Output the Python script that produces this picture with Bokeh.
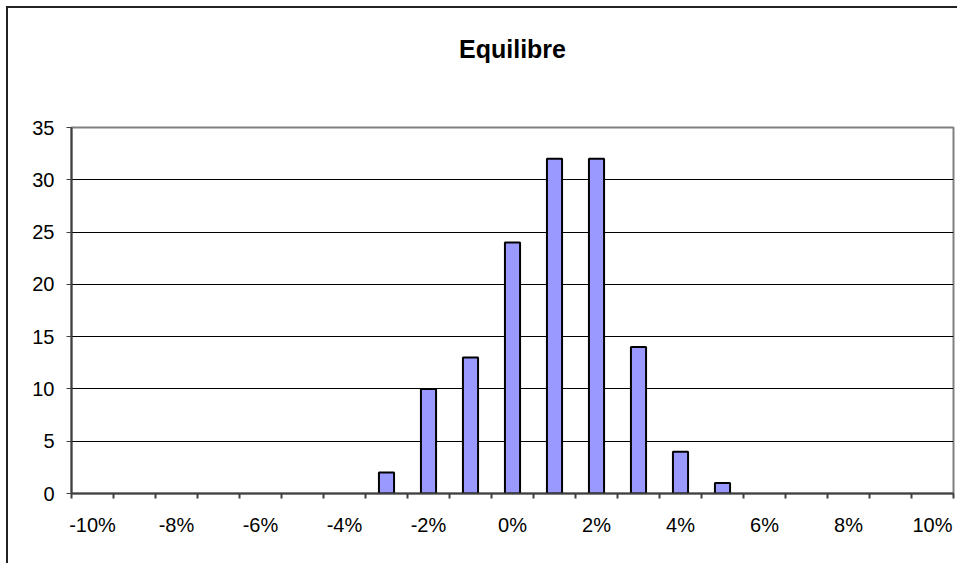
from bokeh.plotting import figure
from bokeh.models import Range1d, FixedTicker, PrintfTickFormatter, Title
from bokeh.embed import file_html
from bokeh.resources import INLINE

# Return bins (percent) and the number of observations in each bin
bins = [-10, -9, -8, -7, -6, -5, -4, -3, -2, -1, 0, 1, 2, 3, 4, 5, 6, 7, 8, 9, 10]
counts = [0, 0, 0, 0, 0, 0, 0, 2, 10, 13, 24, 32, 32, 14, 4, 1, 0, 0, 0, 0, 0]
labelled_bins = [-10, -8, -6, -4, -2, 0, 2, 4, 6, 8, 10]
y_ticks = [0, 5, 10, 15, 20, 25, 30, 35]
title_text = "Equilibre"

FONT = "Liberation Sans"
AXIS_COLOR = "#404040"

p = figure(
    width=951, height=557, title=None,
    x_range=Range1d(bins[0] - 0.5, bins[-1] + 0.5),
    y_range=Range1d(0, 35),
    output_backend="svg", toolbar_location=None,
    min_border_left=63, min_border_right=6,
    min_border_top=119, min_border_bottom=72,
)
p.styles = {
    "margin-left": "6px", "margin-top": "6px",
    "border-left": "2px solid #222222", "border-top": "2px solid #222222",
}

p.background_fill_color = "white"
p.border_fill_color = "white"
p.outline_line_color = "#808080"
p.outline_line_width = 2

# blank band between the plot area and the heading
p.add_layout(Title(text=" ", text_font_size="10px", standoff=52), "above")
p.add_layout(Title(text=title_text, align="center", standoff=0,
                   text_font=FONT, text_font_size="25px",
                   text_font_style="bold", text_color="black"), "above")

# empty bins have no bar to draw
nz_bins = [b for b, c in zip(bins, counts) if c > 0]
nz_counts = [c for c in counts if c > 0]
p.vbar(x=nz_bins, top=nz_counts, width=0.36, fill_color="#9999FF",
       line_color="black", line_width=2)

# x axis: labels on every other bin, tick marks between bins
boundaries = [b - 0.5 for b in bins] + [bins[-1] + 0.5]
xa = p.xaxis[0]
xa.ticker = FixedTicker(ticks=labelled_bins, minor_ticks=boundaries)
xa.formatter = PrintfTickFormatter(format="%d%%")
xa.major_tick_out = 0
xa.major_tick_in = 0
xa.minor_tick_out = 5
xa.minor_tick_in = 0
xa.minor_tick_line_color = AXIS_COLOR
xa.minor_tick_line_width = 2
xa.axis_line_color = AXIS_COLOR
xa.axis_line_width = 2
xa.major_label_standoff = 15
xa.major_label_text_font = FONT
xa.major_label_text_font_size = "20px"
xa.major_label_text_color = "black"

ya = p.yaxis[0]
ya.ticker = FixedTicker(ticks=y_ticks)
ya.major_tick_out = 5
ya.major_tick_in = 0
ya.minor_tick_out = 0
ya.minor_tick_in = 0
ya.major_tick_line_color = AXIS_COLOR
ya.major_tick_line_width = 1
ya.axis_line_color = AXIS_COLOR
ya.axis_line_width = 2
ya.major_label_standoff = 12
ya.major_label_text_font = FONT
ya.major_label_text_font_size = "20px"
ya.major_label_text_color = "black"

p.xgrid.visible = False
p.ygrid.ticker = FixedTicker(ticks=y_ticks[1:-1])
p.ygrid.grid_line_color = "black"
p.ygrid.grid_line_width = 1

open("out.html", "w").write(file_html(p, INLINE))
